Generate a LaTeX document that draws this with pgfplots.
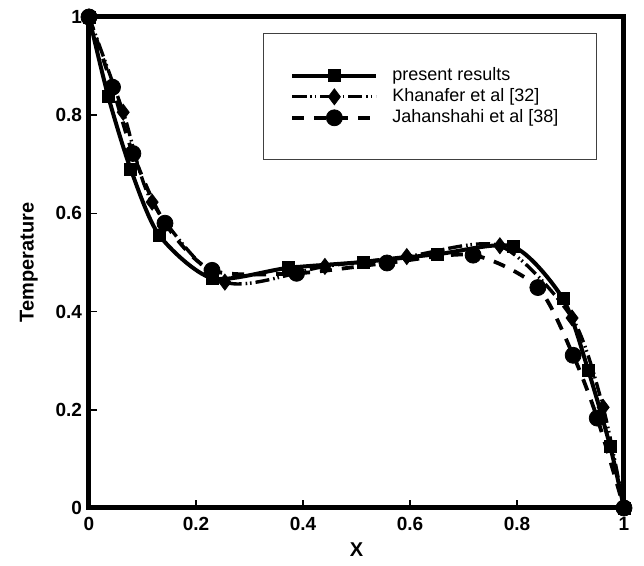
\documentclass[border=0pt]{standalone}
\usepackage{fontspec}
\setmainfont{Liberation Sans}
\usepackage{pgfplots}
\pgfplotsset{compat=1.18}

\pgfplotstableread{
x y
0     1
0.036 0.838
0.078 0.690
0.131 0.556
0.230 0.468
0.372 0.489
0.512 0.501
0.652 0.517
0.793 0.532
0.886 0.426
0.933 0.281
0.974 0.126
1     0
}\present

\pgfplotstableread{
x y
0     1
0.064 0.806
0.118 0.623
0.254 0.460
0.441 0.492
0.594 0.512
0.768 0.534
0.903 0.387
0.961 0.205
1     0
}\khanafer

\pgfplotstableread{
x y
0     1
0.044 0.857
0.082 0.722
0.142 0.580
0.230 0.484
0.388 0.478
0.557 0.499
0.718 0.515
0.839 0.449
0.905 0.311
0.950 0.183
1     0
}\jahanshahi

\begin{document}
\begin{tikzpicture}
\begin{axis}[
  scale only axis,
  width=267.5pt, height=245.5pt,
  xmin=0, xmax=1, ymin=0, ymax=1,
  xtick={0,0.2,...,1}, ytick={0,0.2,...,1},
  tick pos=left, tick align=inside,
  major tick length=4pt,
  every tick/.style={line width=0.8pt, black},
  axis line style={line width=2.5pt},
  /pgf/number format/assume math mode=true,
  ticklabel style={font=\fontsize{9.5}{11}\selectfont\bfseries},
  xticklabel style={yshift=-1pt},
  xlabel={X}, ylabel={Temperature},
  label style={font=\fontsize{10}{12}\selectfont\bfseries},
  xlabel style={yshift=1pt},
  ylabel style={yshift=2pt},
  clip=false,
  legend cell align=left,
  legend style={
    at={(0.325,0.967)}, anchor=north west,
    draw=black!75, line width=0.5pt,
    inner xsep=13.5pt, inner ysep=15pt,
    font=\fontsize{9}{10}\selectfont,
    row sep=-1.5pt,
  },
  legend image code/.code={
    \draw[mark repeat=2,mark phase=2,#1]
      plot coordinates {(0pt,0pt) (21pt,0pt) (42pt,0pt)};
    \path (47pt,0pt);
  },
]
\addplot[black, line width=2pt, smooth, tension=0.45,
  mark=square*, mark size=3pt, mark options={solid, line width=0.4pt}] table {\present};
\addplot[black, line width=1.7pt, smooth, tension=0.45,
  dash pattern=on 7pt off 2pt on 0.8pt off 1.4pt on 0.8pt off 2pt,
  mark=diamond*, mark size=4pt, mark options={solid, line width=0.4pt}] table {\khanafer};
\addplot[black, line width=1.9pt, smooth, tension=0.45,
  dash pattern=on 6pt off 5pt,
  mark=*, mark size=4pt, mark options={solid, line width=0.4pt}] table {\jahanshahi};
\legend{present results, Khanafer et al [32], Jahanshahi et al [38]\hspace*{3.5pt}}
\coordinate (ll) at (rel axis cs:0,0);
\coordinate (ur) at (rel axis cs:1,1);
\end{axis}
\pgfresetboundingbox
\path ([shift={(-44.5pt,-29pt)}]ll) rectangle ([shift={(10pt,8.5pt)}]ur);
\end{tikzpicture}
\end{document}
